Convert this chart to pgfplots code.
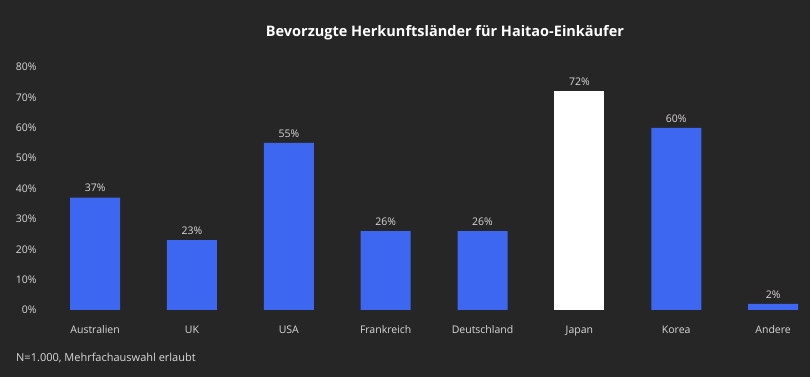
\documentclass[border=0pt]{standalone}
\usepackage{pgfplots}
\pgfplotsset{compat=1.18}
\usepackage{fontspec}
\setmainfont{Open Sans}
\definecolor{bg}{HTML}{262626}
\definecolor{barblue}{HTML}{3D67F0}
\definecolor{txt}{HTML}{D9D9D9}
\begin{document}
\begin{tikzpicture}
\fill[bg] (0,0) rectangle (810pt,377pt);
\begin{axis}[
  at={(37pt,67pt)}, anchor=south west,
  scale only axis, width=770pt, height=243pt,
  xmin=-0.6, xmax=7.35, ymin=0, ymax=80,
  axis line style={draw=none},
  major tick length=0pt,
  xtick={0,...,7},
  xticklabels={Australien,UK,USA,Frankreich,Deutschland,Japan,Korea,Andere},
  ytick={0,10,...,80},
  yticklabel={\pgfmathprintnumber{\tick}\%},
  /pgf/number format/assume math mode=true,
  ticklabel style={font=\fontsize{10.5pt}{12pt}\selectfont, text=txt},
  yticklabel style={xshift=3pt},
  xticklabel style={yshift=-12pt},
  ybar, bar width=50pt, bar shift=0pt,
  nodes near coords={\pgfmathprintnumber{\pgfplotspointmeta}\%},
  nodes near coords style={font=\fontsize{10.5pt}{12pt}\selectfont, text=txt, /pgf/number format/assume math mode=true, yshift=2pt},
  clip=false,
]
\addplot[fill=barblue, draw=none] coordinates {(0,37) (1,23) (2,55) (3,26) (4,26) (6,60) (7,2)};
\addplot[fill=white, draw=none] coordinates {(5,72)};
\end{axis}
\node[text=white, font=\fontsize{14.5pt}{18pt}\selectfont\bfseries] at (445pt,344pt) {Bevorzugte Herkunftsländer für Haitao-Einkäufer};
\node[text=txt, anchor=west, font=\fontsize{11pt}{13pt}\selectfont, inner sep=0pt] at (16pt,19pt) {N=1.000, Mehrfachauswahl erlaubt};
\pgfresetboundingbox
\useasboundingbox (0,0) rectangle (810pt,377pt);
\end{tikzpicture}
\end{document}
